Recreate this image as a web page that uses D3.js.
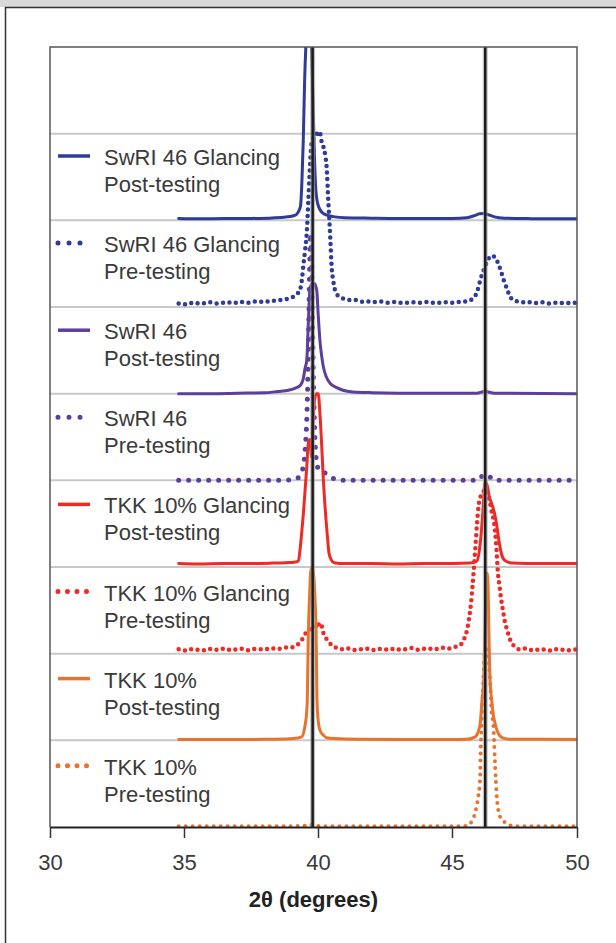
<!DOCTYPE html>
<html>
<head>
<meta charset="utf-8">
<script src="https://cdn.jsdelivr.net/npm/d3@7"></script>
<style>
  body { margin: 0; background: #fff; }
  text { font-family: "Liberation Sans", Arial, sans-serif; }
</style>
</head>
<body>
<div id="chart"></div>
<script>
// x-ray diffraction traces, 2theta in degrees, intensity in stacked units
var seriesNames = [
  ["SwRI 46 Glancing", "Post-testing"],
  ["SwRI 46 Glancing", "Pre-testing"],
  ["SwRI 46", "Post-testing"],
  ["SwRI 46", "Pre-testing"],
  ["TKK 10% Glancing", "Post-testing"],
  ["TKK 10% Glancing", "Pre-testing"],
  ["TKK 10%", "Post-testing"],
  ["TKK 10%", "Pre-testing"]
];
var offsets = [7, 6, 5, 4, 3, 2, 1, 0];
var refPeaks = [39.8, 46.33];
var xTicks = [30, 35, 40, 45, 50];

var swriGlancingPost = [[34.8,0.02],[35.5,0.018],[36.5,0.02],[37.5,0.022],[38.3,0.028],[38.8,0.038],[39.05,0.05],[39.2,0.07],[39.3,0.12],[39.35,0.17],[39.4,0.45],[39.45,0.92],[39.5,1.6],[39.56,2.1],[39.64,2.5],[39.7,2.45],[39.76,2.0],[39.82,1.3],[39.87,0.7],[39.92,0.35],[40.0,0.18],[40.19,0.08],[40.4,0.055],[40.63,0.04],[41,0.03],[42,0.025],[43,0.022],[44,0.022],[45,0.022],[45.6,0.03],[45.9,0.055],[46.1,0.075],[46.25,0.08],[46.45,0.065],[46.7,0.04],[47.1,0.025],[48,0.02],[49,0.018],[50,0.018]];
var swriGlancingPre = [[34.8,0.04],[35.0,0.03],[35.2,0.05],[35.4,0.035],[35.6,0.05],[35.8,0.04],[36.0,0.055],[36.2,0.04],[36.4,0.05],[36.6,0.045],[36.8,0.06],[37.0,0.045],[37.2,0.06],[37.4,0.05],[37.6,0.065],[37.8,0.055],[38.0,0.07],[38.2,0.06],[38.4,0.075],[38.6,0.08],[38.8,0.09],[39.0,0.11],[39.15,0.13],[39.25,0.16],[39.33,0.2],[39.4,0.32],[39.45,0.47],[39.52,0.66],[39.58,0.85],[39.64,1.23],[39.7,1.62],[39.76,1.89],[39.85,1.96],[39.95,2.0],[40.02,1.97],[40.08,2.0],[40.14,1.9],[40.2,1.85],[40.27,1.75],[40.32,1.62],[40.38,1.25],[40.45,0.85],[40.51,0.46],[40.57,0.3],[40.63,0.2],[40.72,0.14],[40.82,0.115],[41.0,0.09],[41.2,0.08],[41.4,0.08],[41.6,0.06],[41.8,0.07],[42.0,0.055],[42.3,0.065],[42.6,0.05],[42.9,0.06],[43.2,0.045],[43.5,0.055],[43.8,0.05],[44.1,0.06],[44.4,0.045],[44.7,0.055],[45.0,0.05],[45.3,0.06],[45.6,0.065],[45.8,0.09],[45.95,0.14],[46.05,0.22],[46.15,0.33],[46.3,0.45],[46.42,0.53],[46.55,0.59],[46.7,0.58],[46.82,0.52],[46.95,0.42],[47.08,0.3],[47.2,0.21],[47.32,0.12],[47.45,0.08],[47.6,0.065],[47.8,0.055],[48.0,0.06],[48.3,0.045],[48.6,0.055],[48.9,0.04],[49.2,0.05],[49.5,0.045],[49.8,0.05],[50,0.045]];
var swriPost = [[34.8,0.0],[36,0.0],[37,0.005],[38,0.01],[38.5,0.025],[38.9,0.04],[39.2,0.07],[39.35,0.1],[39.45,0.17],[39.52,0.3],[39.58,0.38],[39.64,0.82],[39.7,1.2],[39.78,1.27],[39.86,1.27],[39.95,1.2],[40.01,0.9],[40.07,0.62],[40.13,0.45],[40.2,0.31],[40.3,0.2],[40.45,0.12],[40.7,0.07],[40.93,0.04],[41.3,0.02],[42,0.012],[44,0.005],[46,0.005],[46.2,0.02],[46.33,0.03],[46.46,0.02],[46.7,0.005],[50,0.0]];
var swriPre = [[34.8,0.0],[36,0.0],[37,0.0],[38,0.0],[39,0.005],[39.3,0.04],[39.4,0.1],[39.45,0.16],[39.51,0.31],[39.56,0.55],[39.6,0.9],[39.64,1.5],[39.68,2.3],[39.72,2.85],[39.76,2.55],[39.8,1.7],[39.85,0.85],[39.9,0.38],[39.97,0.17],[40.06,0.11],[40.26,0.085],[40.45,0.04],[40.7,0.01],[41,0.0],[46,0.0],[46.15,0.03],[46.25,0.06],[46.45,0.06],[46.55,0.03],[46.7,0.0],[50,0.0]];
var tkkGlancingPost = [[34.8,0.04],[35.5,0.035],[36.5,0.04],[37.5,0.04],[38.3,0.045],[38.8,0.05],[39.1,0.055],[39.27,0.07],[39.33,0.2],[39.39,0.39],[39.45,0.6],[39.51,0.85],[39.58,1.15],[39.64,1.43],[39.7,1.47],[39.76,1.27],[39.82,1.7],[39.88,1.95],[39.95,2.0],[40.01,2.0],[40.07,1.78],[40.14,1.39],[40.2,1.0],[40.25,0.75],[40.3,0.54],[40.36,0.32],[40.41,0.16],[40.5,0.08],[40.6,0.05],[41,0.04],[42,0.04],[43,0.035],[44,0.04],[45,0.04],[45.7,0.045],[46.0,0.07],[46.12,0.25],[46.2,0.5],[46.26,0.75],[46.32,0.98],[46.4,0.95],[46.5,0.8],[46.6,0.72],[46.7,0.62],[46.78,0.5],[46.88,0.3],[46.98,0.15],[47.1,0.08],[47.4,0.045],[48,0.04],[49,0.04],[50,0.04]];
var tkkGlancingPre = [[34.8,0.05],[35.0,0.035],[35.2,0.055],[35.4,0.04],[35.6,0.05],[35.8,0.035],[36.0,0.055],[36.2,0.045],[36.4,0.06],[36.6,0.04],[36.8,0.055],[37.0,0.045],[37.2,0.06],[37.4,0.04],[37.6,0.055],[37.8,0.05],[38.0,0.06],[38.2,0.045],[38.4,0.065],[38.6,0.055],[38.8,0.07],[39.0,0.07],[39.15,0.09],[39.3,0.12],[39.42,0.17],[39.55,0.24],[39.68,0.27],[39.8,0.3],[39.9,0.31],[40.0,0.36],[40.06,0.31],[40.12,0.33],[40.2,0.24],[40.3,0.18],[40.4,0.135],[40.55,0.09],[40.7,0.066],[40.9,0.05],[41.1,0.06],[41.3,0.04],[41.5,0.055],[41.7,0.045],[41.9,0.06],[42.1,0.04],[42.3,0.055],[42.5,0.045],[42.7,0.06],[42.9,0.04],[43.1,0.055],[43.3,0.05],[43.5,0.065],[43.7,0.045],[43.9,0.06],[44.1,0.05],[44.3,0.065],[44.5,0.05],[44.7,0.07],[44.9,0.06],[45.1,0.075],[45.25,0.09],[45.4,0.12],[45.5,0.18],[45.6,0.27],[45.68,0.4],[45.76,0.58],[45.82,0.78],[45.88,1.0],[45.94,1.25],[46.0,1.5],[46.06,1.7],[46.15,1.82],[46.25,1.87],[46.35,1.9],[46.45,1.82],[46.52,1.74],[46.6,1.62],[46.66,1.55],[46.72,1.42],[46.78,1.2],[46.84,0.92],[46.9,0.78],[46.97,0.62],[47.05,0.48],[47.12,0.36],[47.2,0.28],[47.3,0.18],[47.4,0.12],[47.55,0.07],[47.7,0.05],[47.9,0.06],[48.1,0.04],[48.3,0.055],[48.5,0.04],[48.7,0.05],[48.9,0.035],[49.1,0.055],[49.3,0.04],[49.5,0.05],[49.7,0.04],[49.9,0.05],[50,0.045]];
var tkkPost = [[34.8,0.01],[36,0.01],[37,0.01],[38,0.012],[38.8,0.015],[39.1,0.02],[39.39,0.04],[39.51,0.16],[39.57,0.3],[39.6,0.46],[39.64,1.24],[39.68,1.62],[39.73,1.95],[39.78,2.0],[39.84,1.9],[39.89,1.62],[39.93,1.24],[39.96,0.5],[40.0,0.25],[40.07,0.12],[40.2,0.06],[40.32,0.03],[40.6,0.02],[41.5,0.012],[43,0.01],[45,0.01],[45.6,0.012],[45.93,0.04],[46.05,0.1],[46.13,0.2],[46.2,0.46],[46.27,0.7],[46.31,1.2],[46.36,1.75],[46.4,1.93],[46.44,1.8],[46.48,1.2],[46.52,0.7],[46.59,0.46],[46.65,0.3],[46.72,0.2],[46.85,0.08],[47.05,0.025],[47.4,0.012],[48,0.012],[50,0.01]];
var tkkPre = [[34.8,0.01],[36,0.01],[37,0.01],[38,0.01],[39,0.01],[39.6,0.015],[39.75,0.025],[39.9,0.015],[40.2,0.01],[42,0.01],[44,0.01],[45.5,0.01],[45.72,0.04],[45.92,0.16],[46.05,0.35],[46.12,0.54],[46.15,0.93],[46.19,1.2],[46.25,1.7],[46.31,2.0],[46.38,2.05],[46.45,1.95],[46.52,1.7],[46.59,1.3],[46.65,1.2],[46.72,0.74],[46.79,0.35],[46.92,0.12],[47.19,0.04],[47.5,0.01],[50,0.01]];

var traces = [swriGlancingPost, swriGlancingPre, swriPost, swriPre,
              tkkGlancingPost, tkkGlancingPre, tkkPost, tkkPre];

// styles kept apart from the data
var styles = [
  {color: "#2e3b98", width: 3, dash: null},
  {color: "#2e3b98", width: 4.5, dash: "0,6.5", legendDash: "0,11"},
  {color: "#5d3e9f", width: 3, dash: null},
  {color: "#5d3e9f", width: 5, dash: "0,10", legendDash: "0,11"},
  {color: "#ee2a24", width: 3, dash: null},
  {color: "#ee2a24", width: 4.5, dash: "0,6.5", legendDash: "0,9.5"},
  {color: "#e8732d", width: 3, dash: null},
  {color: "#e8732d", width: 4, dash: "0,7", legendDash: "0,9.5"}
];

var width = 616, height = 943;
var plotLeft = 50, plotRight = 577, plotTop = 47, plotBottom = 827;

var svg = d3.select("#chart").append("svg")
  .attr("width", width)
  .attr("height", height);

svg.append("rect").attr("x", 0).attr("y", 0).attr("width", width).attr("height", height).attr("fill", "#fff");
svg.append("rect").attr("x", 0).attr("y", 0).attr("width", width).attr("height", 7).attr("fill", "#d9d9d9");
svg.append("path")
  .attr("d", "M616,7.5 L5.5,7.5 L5.5,943")
  .attr("fill", "none")
  .attr("stroke", "#333")
  .attr("stroke-width", 1.5);

var x = d3.scaleLinear().domain([30, 45, 50]).range([plotLeft, 452, plotRight]);
var y = d3.scaleLinear().domain([0, 9]).range([plotBottom, plotTop]);

// horizontal gridlines at each trace baseline
svg.append("g").selectAll("line")
  .data(d3.range(1, 9))
  .enter().append("line")
  .attr("x1", plotLeft).attr("x2", plotRight)
  .attr("y1", function(d) { return y(d); })
  .attr("y2", function(d) { return y(d); })
  .attr("stroke", "#c8c8c8")
  .attr("stroke-width", 2);

svg.append("defs").append("clipPath").attr("id", "plotclip")
  .append("rect")
  .attr("x", plotLeft).attr("y", plotTop)
  .attr("width", plotRight - plotLeft).attr("height", plotBottom - plotTop);

var plot = svg.append("g").attr("clip-path", "url(#plotclip)");

traces.forEach(function(trace, i) {
  var off = offsets[i];
  var st = styles[i];
  var line = d3.line()
    .x(function(d) { return x(d[0]); })
    .y(function(d) { return y(d[1] + off); })
    .curve(d3.curveMonotoneX);
  var p = plot.append("path")
    .attr("d", line(trace))
    .attr("fill", "none")
    .attr("stroke", st.color)
    .attr("stroke-width", st.width)
    .attr("stroke-linejoin", "round")
    .attr("stroke-linecap", "round");
  if (st.dash) p.attr("stroke-dasharray", st.dash);
});

// reference peak lines
refPeaks.forEach(function(r) {
  svg.append("line")
    .attr("x1", x(r)).attr("x2", x(r))
    .attr("y1", plotTop).attr("y2", plotBottom)
    .attr("stroke", "#9a9a9a")
    .attr("stroke-opacity", 0.6)
    .attr("stroke-width", 5);
  svg.append("line")
    .attr("x1", x(r)).attr("x2", x(r))
    .attr("y1", plotTop).attr("y2", plotBottom)
    .attr("stroke", "#1c1c1c")
    .attr("stroke-width", 2.5);
});

// plot frame
svg.append("path")
  .attr("d", ["M", plotLeft, plotBottom, "L", plotLeft, plotTop, "L", plotRight, plotTop, "L", plotRight, plotBottom].join(" "))
  .attr("fill", "none")
  .attr("stroke", "#555")
  .attr("stroke-width", 1.5);

var xAxis = d3.axisBottom(x)
  .tickValues(xTicks)
  .tickSize(11)
  .tickSizeOuter(0)
  .tickPadding(16)
  .tickFormat(d3.format("d"));

var ax = svg.append("g")
  .attr("transform", "translate(0," + plotBottom + ")")
  .call(xAxis);
ax.select(".domain").attr("stroke", "#222").attr("stroke-width", 2);
ax.selectAll(".tick line").attr("stroke", "#333").attr("stroke-width", 1.5);
ax.selectAll(".tick text")
  .attr("fill", "#3a3a3a")
  .style("font-size", "22px")
  .style("font-family", "'Liberation Sans', Arial, sans-serif");

svg.append("text")
  .attr("x", (plotLeft + plotRight) / 2)
  .attr("y", 907)
  .attr("text-anchor", "middle")
  .attr("fill", "#222")
  .style("font-size", "22px")
  .style("font-weight", "bold")
  .text("2\u03b8 (degrees)");

// legend
var legend = svg.append("g");
seriesNames.forEach(function(name, k) {
  var ly = 156 + k * 87.1;
  var st = styles[k];
  var sym = legend.append("path")
    .attr("d", ["M", 58, ly, "L", 90, ly].join(" "))
    .attr("stroke", st.color)
    .attr("stroke-width", st.dash ? 5 : 3.5)
    .attr("stroke-linecap", st.dash ? "round" : "butt");
  if (st.dash) sym.attr("stroke-dasharray", st.legendDash);
  legend.append("text")
    .attr("x", 104)
    .attr("y", ly + 9)
    .attr("fill", "#3a3a3a")
    .style("font-size", "22px")
    .text(name[0]);
  legend.append("text")
    .attr("x", 104)
    .attr("y", ly + 36)
    .attr("fill", "#3a3a3a")
    .style("font-size", "22px")
    .text(name[1]);
});
</script>
</body>
</html>
